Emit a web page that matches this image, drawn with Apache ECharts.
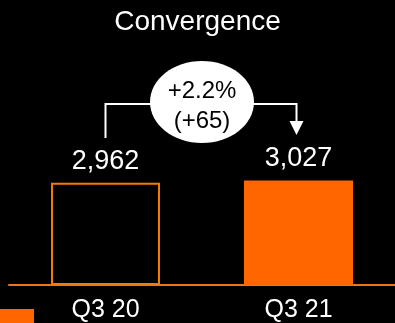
<!DOCTYPE html>
<html>
<head>
<meta charset="utf-8">
<title>Convergence</title>
<script src="https://cdn.jsdelivr.net/npm/echarts@6/dist/echarts.min.js"></script>
<style>
  html, body { margin: 0; padding: 0; background: #000; }
  #chart { width: 395px; height: 323px; }
</style>
</head>
<body>
<div id="chart"></div>
<script>
  // data
  var categories = ['Q3 20', 'Q3 21'];
  var values = [2962, 3027];
  var changePct = '+2.2%';
  var changeAbs = '(+65)';

  var ORANGE = '#ff6600';
  var FONT = '"Liberation Sans", Arial, sans-serif';

  var chart = echarts.init(document.getElementById('chart'));

  var option = {
    backgroundColor: '#000',
    animation: false,
    title: {
      text: 'Convergence',
      left: 'center',
      top: 3,
      textStyle: { color: '#fff', fontSize: 28, fontWeight: 'normal', fontFamily: FONT }
    },
    legend: {
      left: 0,
      top: 309,
      padding: 0,
      itemWidth: 34,
      itemHeight: 28,
      formatter: function () { return ''; },
      data: [{ name: 'Convergence', icon: 'rect', itemStyle: { color: ORANGE, borderWidth: 0 } }]
    },
    grid: { left: 9, width: 389, top: 140, bottom: 33 },
    xAxis: {
      type: 'category',
      data: categories,
      axisLine: { lineStyle: { color: '#f07410', width: 2 } },
      axisTick: { show: false },
      axisLabel: { color: '#fff', fontSize: 25, fontFamily: FONT, margin: 13 }
    },
    yAxis: {
      type: 'value',
      min: 0,
      max: 4200,
      show: false,
      splitLine: { show: false }
    },
    series: [{
      name: 'Convergence',
      type: 'bar',
      barWidth: 109,
      itemStyle: { color: ORANGE },
      label: {
        show: true,
        position: 'top',
        distance: 8,
        color: '#fff',
        fontSize: 27,
        fontFamily: FONT,
        formatter: function (p) { return p.value.toLocaleString('en-US'); }
      },
      data: [
        { value: values[0], itemStyle: { color: '#000', borderColor: '#f57a00', borderWidth: 2 } },
        { value: values[1] }
      ]
    }]
  };
  chart.setOption(option);

  // bracket with arrow and change bubble, placed from the bar positions
  var x0 = chart.convertToPixel({ seriesIndex: 0 }, [0, values[0]])[0];
  var x1 = chart.convertToPixel({ seriesIndex: 0 }, [1, values[1]])[0];
  var yTop = 104;
  var cx = (x0 + x1) / 2;
  var lineStyle = { stroke: '#fff', lineWidth: 2, fill: null };

  chart.setOption({
    graphic: [
      { type: 'polyline', shape: { points: [[x0, 138], [x0, yTop], [x1 - 2, yTop], [x1 - 2, 122]] }, style: lineStyle, z: 10 },
      { type: 'polygon', shape: { points: [[x1 - 9, 121], [x1 + 5, 121], [x1 - 2, 135]] }, style: { fill: '#fff' }, z: 10 },
      { type: 'ellipse', shape: { cx: cx, cy: 102, rx: 52, ry: 41 }, style: { fill: '#fff' }, z: 11 },
      {
        type: 'text', x: cx, y: 106, z: 12,
        style: {
          text: changePct + '\n' + changeAbs,
          fill: '#000', font: '24px ' + FONT, lineHeight: 30,
          align: 'center', verticalAlign: 'middle'
        }
      }
    ]
  });
</script>
</body>
</html>
